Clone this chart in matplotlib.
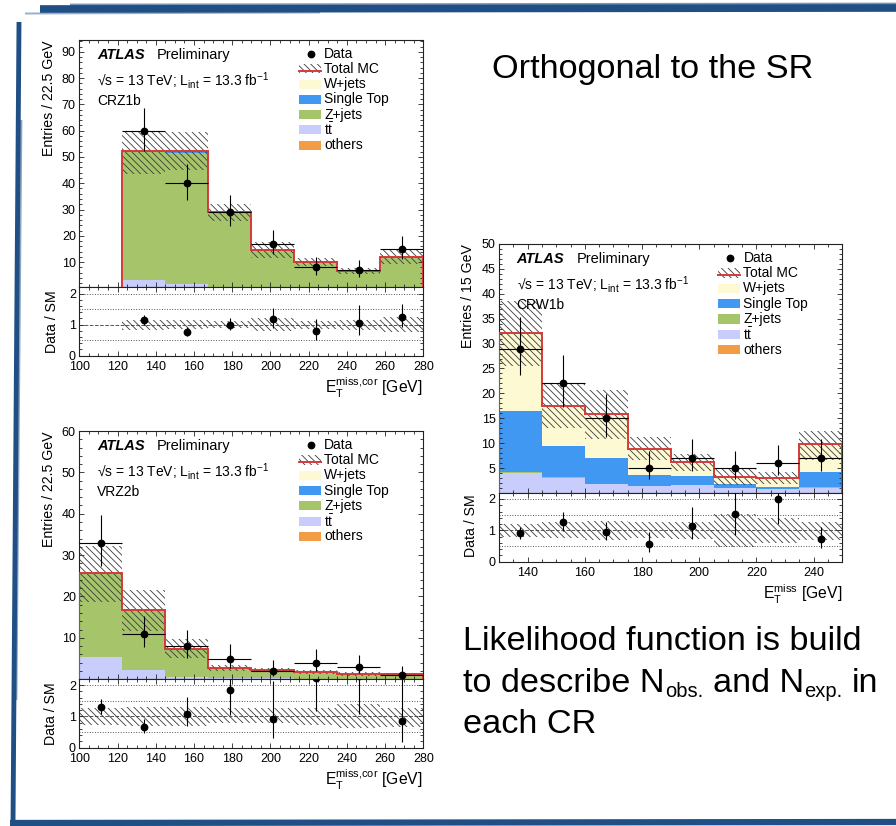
import numpy as np
import matplotlib
matplotlib.use("Agg")
import matplotlib.pyplot as plt
from matplotlib.patches import Rectangle
from matplotlib.lines import Line2D
from matplotlib.ticker import MultipleLocator

plt.rcParams.update({
    "font.family": ["Liberation Sans", "DejaVu Sans"],
    "mathtext.fontset": "custom",
    "mathtext.rm": "Liberation Sans",
    "mathtext.it": "Liberation Sans:italic",
    "mathtext.bf": "Liberation Sans:bold",
    "hatch.linewidth": 0.6,
})

# ---------------- CRZ1b ----------------
crz1b_edges = [100, 122.5, 145, 167.5, 190, 212.5, 235, 257.5, 280]
crz1b_data = [0, 60, 40, 29, 17, 8, 7, 15]
crz1b_data_err_lo = [0, 7.7, 6.3, 5.4, 4.1, 2.8, 2.6, 3.8]
crz1b_data_err_hi = [0, 8.8, 7.4, 6.4, 5.2, 4.0, 3.8, 4.9]
crz1b_others = [0, 0, 0, 0, 0, 0, 0, 0]
crz1b_ttbar = [0, 3.1, 1.7, 0.5, 0.3, 0.5, 0.2, 0.2]
crz1b_zjets = [0, 49.2, 49.9, 28.4, 14.1, 9.6, 6.3, 11.7]
crz1b_singletop = [0, 0.1, 0.6, 0.1, 0.1, 0.1, 0.1, 0.1]
crz1b_wjets = [0, 0, 0, 0, 0, 0, 0, 0]
crz1b_mc_lo = [0, 43.4, 44.9, 25.8, 11.7, 8.6, 5.4, 9.2]
crz1b_mc_hi = [0, 59.6, 59.6, 32.1, 17.5, 11.4, 7.6, 14.9]

# ---------------- VRZ2b ----------------
vrz2b_edges = [100, 122.5, 145, 167.5, 190, 212.5, 235, 257.5, 280]
vrz2b_data = [33, 11, 8, 5, 2, 4, 3, 1]
vrz2b_data_err_lo = [5.7, 3.3, 2.8, 2.2, 1.3, 1.9, 1.6, 0.8]
vrz2b_data_err_hi = [6.8, 4.4, 4.0, 3.4, 2.6, 3.2, 2.9, 2.3]
vrz2b_others = [0, 0, 0, 0, 0, 0, 0, 0]
vrz2b_ttbar = [5.4, 2.2, 0.6, 0.2, 0.2, 0.15, 0.1, 0.1]
vrz2b_zjets = [20.2, 14.5, 6.8, 2.5, 1.95, 1.65, 1.2, 1.08]
vrz2b_singletop = [0, 0, 0, 0, 0, 0, 0, 0]
vrz2b_wjets = [0, 0, 0, 0, 0, 0, 0, 0]
vrz2b_mc_lo = [18.6, 11.6, 5.1, 2.1, 1.7, 1.3, 0.8, 0.8]
vrz2b_mc_hi = [32.3, 21.5, 9.6, 3.4, 2.7, 2.3, 1.8, 1.5]

# ---------------- CRW1b ----------------
crw1b_edges = [130, 145, 160, 175, 190, 205, 220, 235, 250]
crw1b_data = [29, 22, 15, 5, 7, 5, 6, 7]
crw1b_data_err_lo = [5.4, 4.7, 3.8, 2.2, 2.6, 2.2, 2.4, 2.6]
crw1b_data_err_hi = [6.4, 5.8, 4.9, 3.4, 3.8, 3.4, 3.6, 3.8]
crw1b_others = [0, 0, 0, 0, 0, 0, 0, 0]
crw1b_ttbar = [4.0, 3.0, 1.7, 1.3, 1.5, 0.9, 0.7, 1.0]
crw1b_zjets = [0.3, 0.2, 0.05, 0.05, 0.05, 0.05, 0.05, 0.1]
crw1b_singletop = [12.2, 6.2, 5.35, 2.25, 1.95, 0.75, 0.45, 3.1]
crw1b_wjets = [15.6, 8.0, 8.8, 5.2, 2.7, 1.6, 1.8, 5.6]
crw1b_mc_lo = [25.5, 13.0, 10.8, 6.6, 4.5, 1.5, 1.8, 6.7]
crw1b_mc_hi = [38.6, 21.9, 20.7, 11.2, 7.9, 5.0, 4.2, 12.5]

legend_labels = ["Data", "Total MC", "W+jets", "Single Top", "Z+jets",
                 r"$\mathrm{t\bar{t}}$", "others"]

C_W = "#fdfad3"
C_ST = "#4098f3"
C_Z = "#a6c56b"
C_TT = "#c9cdfb"
C_OTH = "#f29c46"
C_RED = "#d43a3a"
HATCH_C = "#3a3a3a"
HATCH = "\\" * 5
BRUSH = "#1f4f85"

W_PX, H_PX = 896, 826
fig = plt.figure(figsize=(8.96, 8.26), dpi=100)


def fx(x):
    return x / W_PX


def fy(y):
    return 1 - y / H_PX


def box(x0, y0, x1, y1):
    return [fx(x0), fy(y1), (x1 - x0) / W_PX, (y1 - y0) / H_PX]


def style_axis(a, xmaj, xmin, ymaj, ymin):
    for s in a.spines.values():
        s.set_linewidth(0.8)
        s.set_color("#222222")
    a.xaxis.set_major_locator(MultipleLocator(xmaj))
    a.xaxis.set_minor_locator(MultipleLocator(xmin))
    a.yaxis.set_major_locator(MultipleLocator(ymaj))
    a.yaxis.set_minor_locator(MultipleLocator(ymin))
    a.tick_params(which="both", direction="in", top=True, right=True,
                  labelsize=9, width=0.6, color="#222222")
    a.tick_params(which="major", length=3.6)
    a.tick_params(which="minor", length=1.9)
    a.tick_params(axis="x", pad=4)
    a.tick_params(axis="y", pad=2.5)


def draw_region(main_px, ratio_px, edges, data, elo, ehi, comps, mc_lo, mc_hi,
                ylim, ymaj, ymin, xmaj, xmin, region, ylabel, ylabel_px,
                rlabel_px, xlabel, xlabel_px):
    edges = np.asarray(edges, float)
    widths = np.diff(edges)
    centers = edges[:-1] + widths / 2
    data = np.asarray(data, float)
    elo = np.asarray(elo, float)
    ehi = np.asarray(ehi, float)
    mc_lo = np.asarray(mc_lo, float)
    mc_hi = np.asarray(mc_hi, float)

    ax = fig.add_axes(box(*main_px))
    axr = fig.add_axes(box(*ratio_px))

    # stacked backgrounds (bottom -> top)
    bottom = np.zeros(len(widths))
    for vals, col in comps:
        vals = np.asarray(vals, float)
        ax.bar(edges[:-1], vals, width=widths, bottom=bottom, align="edge",
               color=col, linewidth=0, zorder=1)
        bottom = bottom + vals
    total = bottom

    # MC uncertainty band
    ax.bar(edges[:-1], mc_hi - mc_lo, width=widths, bottom=mc_lo, align="edge",
           fill=False, edgecolor=HATCH_C, linewidth=0, hatch=HATCH, zorder=2)
    ax.stairs(total, edges, color=C_RED, lw=1.4, zorder=3)

    sel = data > 0
    ax.errorbar(centers[sel], data[sel], yerr=[elo[sel], ehi[sel]],
                xerr=widths[sel] / 2, fmt="o", color="black", ms=4.6,
                elinewidth=0.8, capsize=0, zorder=5)

    ax.set_xlim(edges[0], edges[-1])
    ax.set_ylim(*ylim)
    style_axis(ax, xmaj, xmin, ymaj, ymin)
    ax.tick_params(labelbottom=False)

    # ratio panel
    ok = total > 0
    for yv, ls in ((0.5, ":"), (1.5, ":"), (2.0, ":"), (1.0, "--")):
        axr.axhline(yv, color="#555555", lw=0.7, ls=ls, zorder=0)
    t = np.where(ok, total, 1.0)
    axr.bar(edges[:-1][ok], ((mc_hi - mc_lo) / t)[ok], width=widths[ok],
            bottom=(mc_lo / t)[ok], align="edge", fill=False, edgecolor=HATCH_C,
            linewidth=0, hatch=HATCH, zorder=2)
    rs = sel & ok
    axr.errorbar(centers[rs], (data / t)[rs], yerr=[(elo / t)[rs], (ehi / t)[rs]],
                 fmt="o", color="black", ms=4.6, elinewidth=0.8, capsize=0,
                 zorder=5)
    axr.set_xlim(edges[0], edges[-1])
    axr.set_ylim(0, 2.2)
    style_axis(axr, xmaj, xmin, 1, 0.2)

    # labels
    tr = ax.transAxes
    ax.text(0.051, 0.938, "ATLAS", transform=tr, fontsize=10.5,
            fontweight="bold", fontstyle="italic", va="center", ha="left")
    ax.text(0.226, 0.938, "Preliminary", transform=tr, fontsize=10.5,
            va="center", ha="left")
    ax.text(0.051, 0.838,
            r"√s = 13 TeV; L$_{\mathrm{int}}$ = 13.3 fb$^{\mathrm{-1}}$",
            transform=tr, fontsize=10, va="center", ha="left")
    ax.text(0.051, 0.753, region, transform=tr, fontsize=10, va="center",
            ha="left")

    # legend
    fills = [None, None, C_W, C_ST, C_Z, C_TT, C_OTH]
    bx0, bx1, mx, txx = 0.639, 0.702, 0.673, 0.712
    bh = 0.037
    for i, (lab, col) in enumerate(zip(legend_labels, fills)):
        yc = 0.945 - i * 0.0617
        if i == 0:
            ax.plot([mx], [yc], "o", color="black", ms=4.6, transform=tr,
                    clip_on=False, zorder=6)
        elif i == 1:
            ax.add_patch(Rectangle((bx0, yc - bh / 2), bx1 - bx0, bh,
                                   transform=tr, fill=False, edgecolor=HATCH_C,
                                   linewidth=0, hatch=HATCH, zorder=6))
            ax.plot([bx0, bx1], [yc - bh * 0.2, yc - bh * 0.2], color=C_RED,
                    lw=1.4, transform=tr, zorder=7)
        else:
            ax.add_patch(Rectangle((bx0, yc - bh / 2), bx1 - bx0, bh,
                                   transform=tr, facecolor=col, linewidth=0,
                                   zorder=6))
        ax.text(txx, yc, lab, transform=tr, fontsize=10, va="center",
                ha="left", zorder=7)

    fig.text(fx(ylabel_px[0]), fy(ylabel_px[1]), ylabel, rotation=90,
             ha="center", va="top", fontsize=10.2)
    fig.text(fx(rlabel_px[0]), fy(rlabel_px[1]), "Data / SM", rotation=90,
             ha="center", va="center", fontsize=10.2)
    fig.text(fx(xlabel_px[0]), fy(xlabel_px[1]), xlabel, ha="right",
             va="baseline", fontsize=11.3)


XLAB_COR = r"$\mathrm{E}_{\mathrm{T}}^{\mathrm{miss{,}cor}}$ [GeV]"
XLAB = r"$\mathrm{E}_{\mathrm{T}}^{\mathrm{miss}}$ [GeV]"

draw_region((79.3, 40, 423.3, 287.3), (79.3, 287.3, 423.3, 355.7),
            crz1b_edges, crz1b_data, crz1b_data_err_lo, crz1b_data_err_hi,
            [(crz1b_others, C_OTH), (crz1b_ttbar, C_TT), (crz1b_zjets, C_Z),
             (crz1b_singletop, C_ST), (crz1b_wjets, C_W)],
            crz1b_mc_lo, crz1b_mc_hi, (0.4, 94.5), 10, 2, 20, 5, "CRZ1b",
            "Entries / 22.5 GeV", (49.3, 40), (51.7, 321.5),
            XLAB_COR, (423, 393))

draw_region((79.3, 431, 423.3, 679), (79.3, 679, 423.3, 747.7),
            vrz2b_edges, vrz2b_data, vrz2b_data_err_lo, vrz2b_data_err_hi,
            [(vrz2b_others, C_OTH), (vrz2b_ttbar, C_TT), (vrz2b_zjets, C_Z),
             (vrz2b_singletop, C_ST), (vrz2b_wjets, C_W)],
            vrz2b_mc_lo, vrz2b_mc_hi, (0.05, 60), 10, 2, 20, 5, "VRZ2b",
            "Entries / 22.5 GeV", (49.3, 431.5), (51, 713.3),
            XLAB_COR, (423, 785))

draw_region((499, 244, 842.3, 492.7), (499, 492.7, 842.3, 561.7),
            crw1b_edges, crw1b_data, crw1b_data_err_lo, crw1b_data_err_hi,
            [(crw1b_others, C_OTH), (crw1b_ttbar, C_TT), (crw1b_zjets, C_Z),
             (crw1b_singletop, C_ST), (crw1b_wjets, C_W)],
            crw1b_mc_lo, crw1b_mc_hi, (0.05, 50), 5, 1, 20, 5, "CRW1b",
            "Entries / 15 GeV", (468.3, 244), (470.7, 526),
            XLAB, (842, 600))

# slide text
BODY = 24.7
SUB = 14.5
fig.text(fx(491.7), fy(78.3), "Orthogonal to the SR", fontsize=BODY,
         ha="left", va="baseline")
fig.text(fx(463.3), fy(650), "Likelihood function is build", fontsize=BODY,
         ha="left", va="baseline")
fig.text(fx(463.3), fy(733), "each CR", fontsize=BODY, ha="left",
         va="baseline")

renderer = fig.canvas.get_renderer()


def text_width(s, size):
    t = fig.text(0, 0, s, fontsize=size)
    w = t.get_window_extent(renderer).width
    t.remove()
    return w


space_w = text_width("n n", BODY) - text_width("nn", BODY)


def text_runs(x_px, y_px, runs):
    # runs: (text, fontsize, baseline shift in px, space after)
    x = x_px
    for s, size, dy, sp in runs:
        t = fig.text(fx(x), fy(y_px + dy), s, fontsize=size, ha="left",
                     va="baseline")
        x = t.get_window_extent(renderer).x1 + (space_w if sp else 0)


text_runs(463.3, 691.7, [("to describe N", BODY, 0, False),
                         ("obs.", SUB, 5, True),
                         ("and N", BODY, 0, False),
                         ("exp.", SUB, 5, True),
                         ("in", BODY, 0, False)])


# brush-stroke frame
def stroke(xs, ys, lw, alpha=1.0):
    fig.add_artist(Line2D([fx(x) for x in xs], [fy(y) for y in ys], lw=lw,
                          color=BRUSH, alpha=alpha, solid_capstyle="butt",
                          transform=fig.transFigure))


stroke([40, 896], [9, 8], 5.5)
stroke([70, 896], [5, 4], 2.0, 0.6)
stroke([25, 320], [13.5, 12.5], 1.4, 0.45)
stroke([19, 13], [22, 823], 3.5)
stroke([21, 16], [120, 700], 2.0, 0.5)
stroke([10, 896], [823, 822], 4.5)

fig.savefig("out.png", dpi=100)
